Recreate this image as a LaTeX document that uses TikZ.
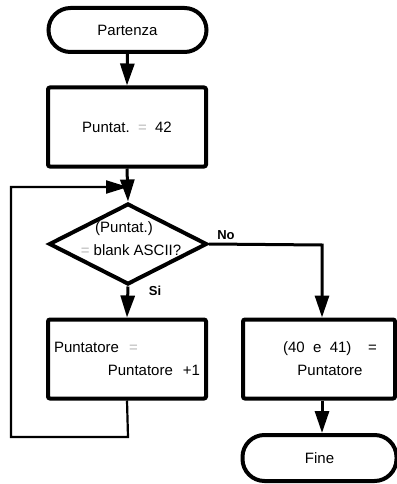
\documentclass[tikz,border=0pt]{standalone}
\usepackage{fontspec}
\setmainfont{Liberation Sans}
\usetikzlibrary{arrows.meta,shapes.geometric}
\definecolor{faint}{gray}{0.72}
\begin{document}
\begin{tikzpicture}[x=1pt,y=-1pt,
  font=\fontsize{15}{23}\selectfont,
  stadium/.style={draw,line width=4pt,rounded corners=22pt,minimum width=158pt,minimum height=44pt,inner sep=0pt},
  procbox/.style={draw,line width=4pt,rounded corners=2pt,minimum width=158pt,minimum height=79pt,inner sep=0pt},
  decision/.style={draw,line width=4pt,diamond,aspect=1.95,minimum width=158pt,minimum height=81pt,inner sep=0pt},
  flow/.style={line width=3pt,-{Triangle[length=22pt,width=14pt]}},
  loopline/.style={line width=2.2pt},
  lbl/.style={font=\fontsize{13}{16}\selectfont\bfseries}]
\useasboundingbox (0,0) rectangle (396,484);
\node[stadium] (start) at (127.5,30) {Partenza};
\node[procbox] (b1) at (127,127) {Puntat.~~{\color{faint}=}~~42};
\node[decision] (dec) at (128,244) {};
\node[align=center,inner sep=0pt] (dectext) at (131,239) {\hspace*{-14pt}(Puntat.)\\{\color{faint}=}~blank~ASCII?};
\node[procbox,text width=146pt,align=left] (b3) at (127,359) {Puntatore~~{\color{faint}=}\\\hspace*{0pt plus 1fill}Puntatore~~+1};
\node[procbox,minimum width=152pt,align=center] (b2) at (319,359) {\hspace*{22pt}(40~~e~~41)~~~~=\\\hspace*{22pt}Puntatore};
\node[stadium,minimum width=154pt,minimum height=46pt] (fine) at (319.5,458) {Fine};
\coordinate (join) at (128,187);
\coordinate (lb) at (128,437);
\coordinate (ll) at (11,437);
\coordinate (lt) at (11,187);
\coordinate (nr) at (322,245);
\draw[flow] (start.south) -- (b1.north);
\draw[flow] (b1.south) -- (dec.north);
\draw[flow] (dec.south) -- (b3.north);
\draw[flow] (dec.east) -- (nr) -- (nr |- b2.north);
\draw[flow] (b2.south -| nr) -- (fine.north -| nr);
\draw[loopline] (b3.south) -- (lb) -- (ll) -- (lt) -- (join);
\draw[loopline,-{Triangle[length=22pt,width=13pt]}] (lt) -- (join);
\node[lbl] (no) at (226,235) {No};
\node[lbl] (si) at (155,291) {Si};
\end{tikzpicture}
\end{document}
